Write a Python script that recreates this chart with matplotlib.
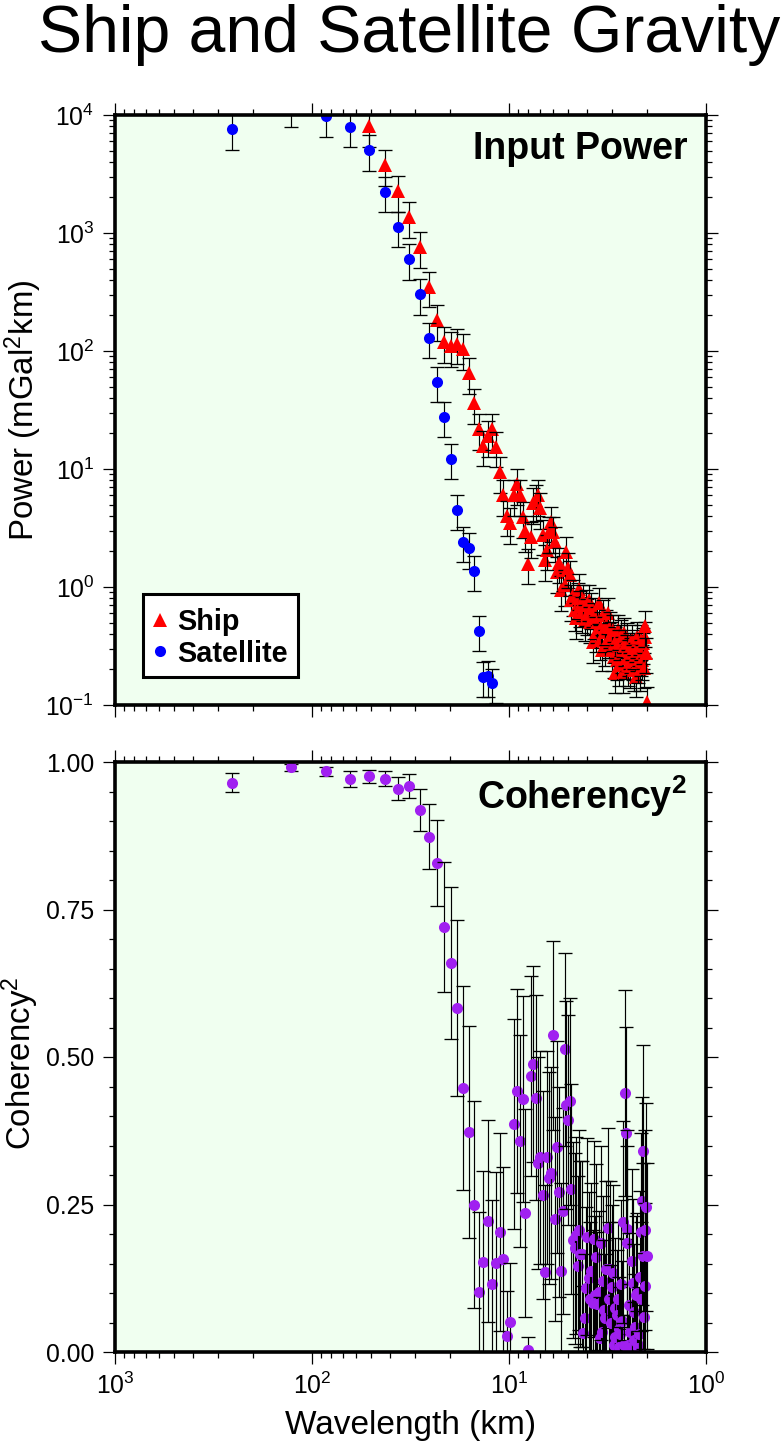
#!/usr/bin/env python3
# Ship and satellite gravity spectra: input power and coherency
import matplotlib
matplotlib.use('Agg')
import matplotlib.pyplot as plt
from matplotlib.patches import Rectangle
from matplotlib.ticker import LogLocator, MultipleLocator, NullFormatter, FixedLocator

plt.rcParams['font.family'] = ['Liberation Sans', 'DejaVu Sans']
plt.rcParams['mathtext.default'] = 'regular'

# wavelength in km, one value per spectral estimate
wavelength = [256, 128, 85.3, 64, 51.2, 42.7, 36.6, 32, 28.4, 25.6, 23.3, 21.3, 19.7, 18.3, 17.1, 16,
              15.1, 14.2, 13.5, 12.8, 12.2, 11.6, 11.1, 10.7, 10.2, 9.85, 9.48, 9.14, 8.83, 8.53, 8.26, 8,
              7.76, 7.53, 7.31, 7.11, 6.92, 6.74, 6.56, 6.4, 6.24, 6.10, 5.95, 5.82, 5.69, 5.57, 5.45, 5.33,
              5.22, 5.12, 5.02, 4.92, 4.83, 4.74, 4.65, 4.57, 4.49, 4.41, 4.34, 4.27, 4.20, 4.13, 4.06, 4,
              3.94, 3.88, 3.82, 3.76, 3.71, 3.66, 3.61, 3.56, 3.51, 3.46, 3.41, 3.37, 3.32, 3.28, 3.24, 3.20,
              3.16, 3.12, 3.08, 3.05, 3.01, 2.98, 2.94, 2.91, 2.88, 2.84, 2.81, 2.78, 2.75, 2.72, 2.69, 2.67,
              2.64, 2.61, 2.59, 2.56, 2.53, 2.51, 2.49, 2.46, 2.44, 2.42, 2.39, 2.37, 2.35, 2.33, 2.31, 2.29,
              2.27, 2.25, 2.23, 2.21, 2.19, 2.17, 2.15, 2.13, 2.12, 2.10, 2.08, 2.06, 2.05, 2.03, 2.02, 2.00]

# ship power starts at the 5th wavelength
ship_power = [8070, 3770, 2270, 1367, 761, 349, 183, 119, 110, 115, 104, 65, 36, 21.8, 15.7, 19.0,
              21.8, 15.4, 9.43, 6.02, 4.0, 3.48, 6.02, 7.46, 6.02, 3.92, 2.98, 1.57, 2.65, 5.15, 5.46, 6.02,
              4.67, 2.76, 1.69, 2.06, 2.92, 3.56, 2.92, 2.41, 1.34, 1.60, 0.94, 1.39, 1.04, 1.98, 1.45, 1.26,
              0.776, 0.855, 0.638, 0.546, 0.807, 0.962, 0.69, 0.614, 0.776, 0.525, 0.703, 0.59, 0.776, 0.505,
              0.664, 0.342, 0.546, 0.602, 0.416, 0.505, 0.732, 0.356, 0.458, 0.292, 0.579, 0.416, 0.322, 0.477,
              0.602, 0.37, 0.458, 0.377, 0.292, 0.432, 0.255, 0.342, 0.187, 0.241, 0.432, 0.322, 0.218, 0.356,
              0.392, 0.281, 0.19, 0.408, 0.322, 0.25, 0.37, 0.292, 0.218, 0.265, 0.304, 0.206, 0.276, 0.356,
              0.241, 0.198, 0.304, 0.25, 0.173, 0.292, 0.377, 0.231, 0.322, 0.198, 0.265, 0.356, 0.241, 0.304,
              0.335, 0.206, 0.377, 0.467, 0.276, 0.106]

# satellite power, first 22 wavelengths (the rest is off the scale)
sat_power = [7610, 11800, 9810, 7950, 5050, 2240, 1130, 602, 304, 129, 55, 27.7, 12.2, 4.5, 2.41, 2.14,
             1.37, 0.424, 0.173, 0.176, 0.153, 0.0776]

# same fractional error on all power estimates
power_frac_err = 0.33

coherency = [0.965, 0.991, 0.984, 0.971, 0.976, 0.972, 0.955, 0.959, 0.919, 0.873, 0.829, 0.72, 0.659, 0.583, 0.447, 0.373,
             0.25, 0.102, 0.152, 0.222, 0.115, 0.151, 0.204, 0.158, 0.027, 0.051, 0.386, 0.443, 0.358, 0.429, 0.236, 0.004,
             0.468, 0.488, 0.431, 0.32, 0.33, 0.266, 0.135, 0.33, 0.295, 0.303, 0.537, 0.225, 0.347, 0.272, 0.137, 0.239,
             0.513, 0.419, 0.393, 0.425, 0.276, 0.19, 0.176, 0.198, 0.146, 0.207, 0.166, 0.166, 0.032, 0.058, 0.108, 0.195,
             0.125, 0.09, 0.137, 0.083, 0.191, 0.097, 0.161, 0.081, 0.102, 0.024, 0.185, 0.034, 0.12, 0.072, 0.058, 0.14,
             0.21, 0.09, 0.14, 0.049, 0.11, 0.134, 0.012, 0.075, 0.025, 0.063, 0.09, 0.039, 0.008, 0.03, 0.115, 0.052,
             0.22, 0.012, 0.439, 0.371, 0.208, 0.185, 0.012, 0.08, 0.005, 0.034, 0.008, 0.154, 0.117, 0.068, 0.02, 0.042,
             0.097, 0.015, 0.1, 0.006, 0.03, 0.127, 0.203, 0.09, 0.256, 0.341, 0.163, 0.06, 0.112, 0.207, 0.246, 0.163]

coherency_err = [0.016, 0.006, 0.008, 0.014, 0.011, 0.013, 0.020, 0.020, 0.036, 0.055, 0.073, 0.11, 0.129, 0.149, 0.173, 0.18,
                 0.176, 0.136, 0.154, 0.171, 0.142, 0.154, 0.168, 0.156, 0.076, 0.10, 0.178, 0.173, 0.18, 0.175, 0.176, 0.021,
                 0.17, 0.166, 0.174, 0.18, 0.18, 0.177, 0.148, 0.18, 0.18, 0.18, 0.16, 0.173, 0.18, 0.178, 0.149, 0.175,
                 0.163, 0.176, 0.178, 0.175, 0.178, 0.166, 0.162, 0.167, 0.152, 0.169, 0.158, 0.158, 0.08, 0.108, 0.138, 0.167,
                 0.147, 0.13, 0.149, 0.124, 0.166, 0.134, 0.157, 0.122, 0.137, 0.07, 0.164, 0.082, 0.145, 0.118, 0.108, 0.15,
                 0.17, 0.13, 0.15, 0.098, 0.14, 0.149, 0.05, 0.119, 0.07, 0.11, 0.13, 0.088, 0.035, 0.08, 0.142, 0.102,
                 0.171, 0.05, 0.174, 0.18, 0.169, 0.164, 0.05, 0.122, 0.025, 0.082, 0.035, 0.156, 0.143, 0.115, 0.065, 0.09,
                 0.134, 0.055, 0.136, 0.03, 0.08, 0.146, 0.168, 0.13, 0.177, 0.18, 0.158, 0.108, 0.14, 0.169, 0.176, 0.158]

SHIP_RED = 'red'
SAT_BLUE = 'blue'
COH_PURPLE = '#A020F0'
PANEL_BG = '#F0FFF0'

W, H = 783, 1443


def panel(top_px, bottom_px):
    ax = fig.add_axes([115 / W, 1 - bottom_px / H, 591 / W, (bottom_px - top_px) / H])
    ax.set_facecolor(PANEL_BG)
    ax.set_xscale('log')
    ax.set_xlim(1000, 1)
    ax.xaxis.set_major_locator(LogLocator(base=10, numticks=10))
    ax.xaxis.set_minor_locator(LogLocator(base=10, subs=range(2, 10), numticks=10))
    ax.xaxis.set_minor_formatter(NullFormatter())
    for s in ax.spines.values():
        s.set_linewidth(2.6)
    ax.tick_params(which='major', direction='out', length=8.5, width=0.9, labelsize=17.8,
                   top=True, right=True, pad=6.5)
    ax.tick_params(which='minor', direction='out', length=4.3, width=0.9, top=True, right=True)
    return ax


def draw_points(ax, xs, ys, errs, marker, ms, color, z0):
    # each point goes on in turn so later bars lie over earlier symbols
    for i in range(len(xs)):
        z = z0 + i * 0.005
        ax.errorbar(xs[i], ys[i], yerr=errs[i], fmt='none', ecolor='black', elinewidth=0.85,
                    capsize=5.2, capthick=0.95, zorder=z)
        ax.plot(xs[i], ys[i], marker=marker, ms=ms, color=color, mew=0, ls='none', zorder=z + 0.002)


fig = plt.figure(figsize=(W / 100, H / 100), dpi=100)
fig.text(409 / W, 1 - 52 / H, 'Ship and Satellite Gravity', fontsize=47.6, ha='center', va='baseline')

# input power
ax1 = panel(115, 705)
ax1.set_yscale('log')
ax1.set_ylim(0.1, 1e4)
ax1.yaxis.set_major_locator(LogLocator(base=10, numticks=10))
ax1.yaxis.set_minor_locator(LogLocator(base=10, subs=range(2, 10), numticks=10))
ax1.yaxis.set_minor_formatter(NullFormatter())
ax1.tick_params(axis='x', which='both', labelbottom=False)

ship_err = [p * power_frac_err for p in ship_power]
sat_err = [p * power_frac_err for p in sat_power]
draw_points(ax1, wavelength[4:], ship_power, ship_err, '^', 10, SHIP_RED, 1.0)
draw_points(ax1, wavelength[:22], sat_power, sat_err, 'o', 8, SAT_BLUE, 1.8)

ax1.set_ylabel('Power (mGal$^2$km)', fontsize=23.8)
ax1.yaxis.set_label_coords(-0.12, 0.5)
ax1.text(573 / 591, 1 - 44 / 590, 'Input Power', transform=ax1.transAxes, fontsize=27,
         fontweight='bold', ha='right', va='baseline', zorder=5)

# legend box, drawn by hand to get the padding of the original
ax1.add_patch(Rectangle((28 / 591, 28 / 590), 155 / 591, 83 / 590, transform=ax1.transAxes,
                        facecolor='white', edgecolor='black', linewidth=2.2, zorder=4))
ax1.plot(45 / 591, 85 / 590, marker='^', ms=10, color=SHIP_RED, mew=0, ls='none',
         transform=ax1.transAxes, zorder=4.1)
ax1.plot(45 / 591, 54 / 590, marker='o', ms=8, color=SAT_BLUE, mew=0, ls='none',
         transform=ax1.transAxes, zorder=4.1)
ax1.text(62 / 591, 75 / 590, 'Ship', transform=ax1.transAxes, fontsize=20.8, fontweight='bold',
         va='baseline', zorder=4.1)
ax1.text(62 / 591, 43 / 590, 'Satellite', transform=ax1.transAxes, fontsize=20.8, fontweight='bold',
         va='baseline', zorder=4.1)

# coherency
ax2 = panel(762, 1352)
ax2.set_ylim(0, 1)
ax2.yaxis.set_major_locator(FixedLocator([0, 0.25, 0.5, 0.75, 1]))
ax2.yaxis.set_major_formatter(lambda v, pos: '%.2f' % v)
ax2.yaxis.set_minor_locator(MultipleLocator(0.05))

draw_points(ax2, wavelength, coherency, coherency_err, 'o', 8, COH_PURPLE, 1.0)

ax2.set_xlabel('Wavelength (km)', fontsize=24, labelpad=8)
ax2.set_ylabel('Coherency$^2$', fontsize=23.8)
ax2.yaxis.set_label_coords(-0.125, 0.49)
ax2.text(572 / 591, 1 - 47 / 590, 'Coherency$^2$', transform=ax2.transAxes, fontsize=27,
         fontweight='bold', ha='right', va='baseline', zorder=5)

fig.savefig('out.png', dpi=100)
